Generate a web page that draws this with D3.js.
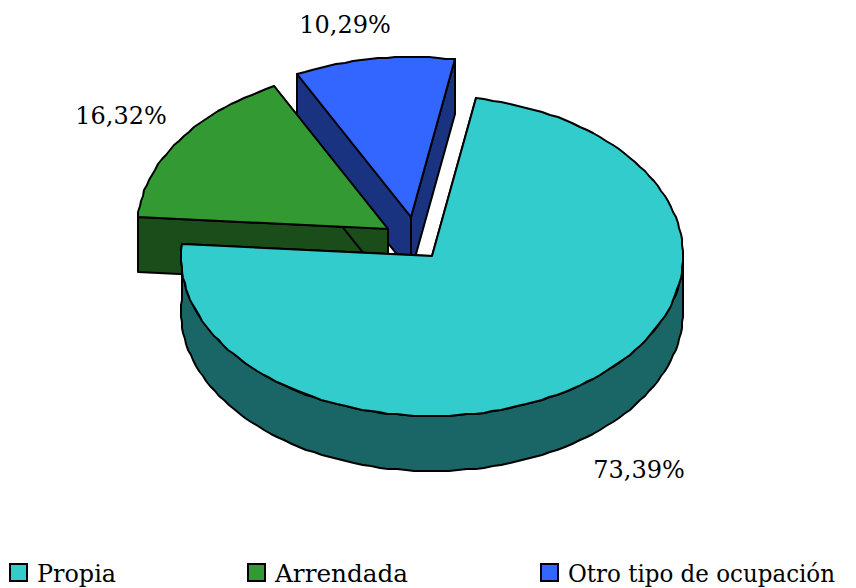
<!DOCTYPE html>
<html>
<head>
<meta charset="utf-8">
<script src="https://cdn.jsdelivr.net/npm/d3@7"></script>
<style>
  html, body { margin: 0; padding: 0; background: #fff; }
  svg { display: block; }
  text { font-family: "DejaVu Serif", serif; fill: #000; }
</style>
</head>
<body>
<div id="chart"></div>
<script>
var categories = ["Propia", "Arrendada", "Otro tipo de ocupación"];
var values = [73.39, 16.32, 10.29];
var valueLabels = ["73,39%", "16,32%", "10,29%"];
var topColors = ["#33cccc", "#339933", "#3366ff"];
var wallColors = ["#1a6666", "#1a4d1a", "#1a3380"];

var chartWidth = 856, chartHeight = 588;
var cx = 432, cy = 256, rx = 251, ry = 160, depth = 55;
var firstAngle = 10 * Math.PI / 180;

// how far each slice is pulled out of the pie
var explode = [[0, 0], [-44, -27], [-21, -39]];
var labelPos = [[639, 478], [121, 124], [345, 33]];
var legendX = [10, 248, 541];
var legendTextW = [79, 133, 267];

var svg = d3.select("#chart").append("svg")
  .attr("width", chartWidth)
  .attr("height", chartHeight);

var slices = d3.pie().sort(null)
  .startAngle(firstAngle)
  .endAngle(firstAngle + 2 * Math.PI)(values);

// angle is clockwise from the top, like d3.arc. the coarse rounding gives the
// slightly bumpy outline of the original
function pt(i, a, dz) {
  var e = explode[i];
  return [
    Math.round(cx + e[0] + rx * Math.sin(a)),
    Math.round(cy + e[1] + (dz || 0) - ry * Math.cos(a))
  ];
}

function rim(i, a0, a1, dz) {
  var n = Math.max(2, Math.ceil(Math.abs(a1 - a0) / 0.035)), out = [];
  for (var k = 0; k <= n; k++) out.push(pt(i, a0 + (a1 - a0) * k / n, dz));
  return out;
}

function apex(i, dz) {
  return [cx + explode[i][0], cy + explode[i][1] + (dz || 0)];
}

var line = d3.line().curve(d3.curveLinearClosed);

function drawPoly(pts, fill) {
  svg.append("path")
    .attr("d", line(pts))
    .attr("fill", fill)
    .attr("stroke", "#000")
    .attr("stroke-width", 2)
    .attr("stroke-linejoin", "round");
}

function flatWall(i, a) {
  var p = pt(i, a), q = apex(i);
  drawPoly([p, q, [q[0], q[1] + depth], [p[0], p[1] + depth]], wallColors[i]);
}

// back to front: blue, green, then the big slice
[2, 1, 0].forEach(function(i) {
  var s = slices[i];
  flatWall(i, s.startAngle);
  flatWall(i, s.endAngle);

  // outer wall, only the front half of the ellipse shows
  var a0 = Math.max(s.startAngle, Math.PI / 2);
  var a1 = Math.min(s.endAngle, 3 * Math.PI / 2 + 0.07);
  if (a1 > a0) {
    drawPoly(rim(i, a0, a1).concat(rim(i, a1, a0, depth)), wallColors[i]);
  }

  drawPoly([apex(i)].concat(rim(i, s.startAngle, s.endAngle)), topColors[i]);

  svg.append("text")
    .attr("x", labelPos[i][0])
    .attr("y", labelPos[i][1])
    .attr("text-anchor", "middle")
    .style("font-size", "24px")
    .text(valueLabels[i]);
});

// legend
categories.forEach(function(c, i) {
  svg.append("rect")
    .attr("x", legendX[i]).attr("y", 564)
    .attr("width", 17).attr("height", 17)
    .attr("fill", topColors[i])
    .attr("stroke", "#000")
    .attr("stroke-width", 2);
  svg.append("text")
    .attr("x", legendX[i] + 27).attr("y", 582)
    .attr("textLength", legendTextW[i])
    .attr("lengthAdjust", "spacingAndGlyphs")
    .style("font-size", "24px")
    .text(c);
});
</script>
</body>
</html>
